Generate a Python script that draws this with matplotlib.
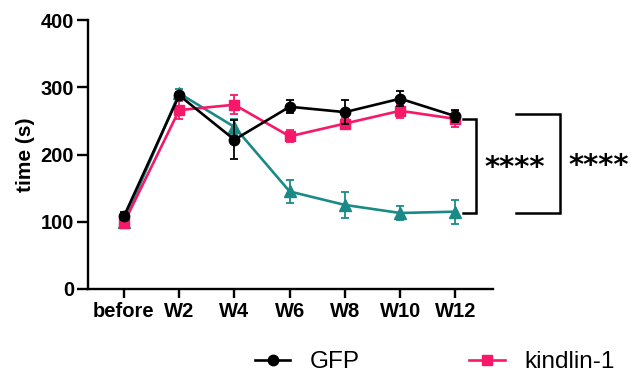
import matplotlib
matplotlib.use("Agg")
import matplotlib.pyplot as plt
from matplotlib.lines import Line2D

plt.rcParams['font.family'] = ['Liberation Sans', 'DejaVu Sans']

timepoints = ["before", "W2", "W4", "W6", "W8", "W10", "W12"]

gfp_mean = [108, 288, 222, 271, 263, 283, 257]
gfp_sem = [6, 5, 29, 10, 18, 11, 9]

kindlin_mean = [98, 266, 274, 227, 246, 265, 253]
kindlin_sem = [6, 13, 14, 9, 8, 10, 12]

third_mean = [100, 291, 241, 145, 125, 113, 115]
third_sem = [5, 7, 12, 17, 19, 10, 18]

series_labels = ["GFP", "kindlin-1"]
sig_label = "****"

c_black = "#000000"
c_pink = "#F7186A"
c_teal = "#1B8A87"

fig = plt.figure(figsize=(6.31, 3.80), dpi=100)
ax = fig.add_axes([88 / 631, 1 - 289 / 380, (493 - 88) / 631, (289 - 20) / 380])

x = list(range(len(timepoints)))
common = dict(linewidth=1.9, capsize=3, elinewidth=1.3, capthick=1.3)

ax.errorbar(x, third_mean, yerr=third_sem, color=c_teal, marker='^', markersize=8, zorder=2, **common)
ax.errorbar(x, kindlin_mean, yerr=kindlin_sem, color=c_pink, marker='s', markersize=7, zorder=3, **common)
ax.errorbar(x, gfp_mean, yerr=gfp_sem, color=c_black, marker='o', markersize=7.5, zorder=4, **common)

ax.set_xlim(-0.65, 6.68)
ax.set_ylim(0, 400)
ax.set_yticks([0, 100, 200, 300, 400])
ax.set_xticks(x)
ax.set_xticklabels(timepoints)
for s in ['top', 'right']:
    ax.spines[s].set_visible(False)
for s in ['left', 'bottom']:
    ax.spines[s].set_linewidth(1.7)
ax.tick_params(axis='y', length=8, width=1.7, labelsize=14.5, pad=2)
ax.tick_params(axis='x', length=6.5, width=1.7, labelsize=14.5, pad=3)
for lab in ax.get_xticklabels() + ax.get_yticklabels():
    lab.set_fontweight('bold')
ax.set_ylabel("time (s)", fontsize=15, fontweight='bold', labelpad=4)

# significance brackets
def bracket(x_left, x_right, y_top, y_bot, text_x):
    ax.plot([x_left, x_right, x_right, x_left], [y_top, y_top, y_bot, y_bot],
            color='black', linewidth=1.8, clip_on=False, solid_joinstyle='miter')
    ax.text(text_x, (y_top + y_bot) / 2 - 4, sig_label, fontsize=21, fontweight='bold',
            family='DejaVu Sans', ha='left', va='center', clip_on=False)

bracket(6.13, 6.37, 253, 113.5, 6.52)
bracket(7.10, 7.90, 260, 113.5, 8.05)

handles = [
    Line2D([], [], color=c_black, marker='o', markersize=7.5, linewidth=1.9),
    Line2D([], [], color=c_pink, marker='s', markersize=7, linewidth=1.9),
]
fig.legend(handles, series_labels, loc='center', bbox_to_anchor=(0.689, 0.047), ncol=2,
           frameon=False, fontsize=17.5, handlelength=1.45, handletextpad=0.8, columnspacing=4.5)

fig.savefig("out.png", dpi=100)
